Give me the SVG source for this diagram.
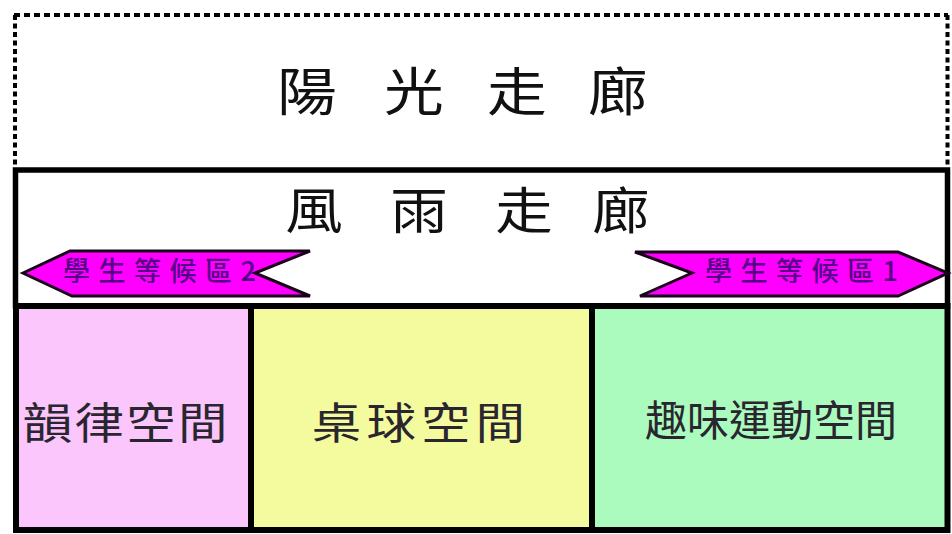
<svg xmlns="http://www.w3.org/2000/svg" width="952" height="534" viewBox="0 0 952 534">
  <style>
    .cjk { font-family: "Noto Sans CJK TC", "Noto Sans CJK SC", sans-serif; }
    .title { font-size: 52px; fill: #111; }
    .title2 { font-size: 50px; fill: #111; }
    .room { font-size: 43px; fill: #2a2630; }
    .wait { font-size: 27px; fill: #560088; letter-spacing: 8.5px; font-weight: 500; }
    .dot-h { stroke: #000; stroke-width: 4; stroke-dasharray: 6 4; fill: none; }
    .dot-v { stroke: #000; stroke-width: 4; stroke-dasharray: 5 3.5; fill: none; }
    .cell { stroke: #000; stroke-width: 6; }
    .arrow { fill: #ff00ff; stroke: #1a001a; stroke-width: 3; stroke-linejoin: miter; }
  </style>
  <rect width="952" height="534" fill="#ffffff"/>

  <g id="sunny-corridor">
    <line class="dot-h" x1="14" y1="15" x2="948" y2="15"/>
    <line class="dot-v" x1="15" y1="15" x2="15" y2="170"/>
    <line class="dot-v" x1="947.5" y1="15" x2="947.5" y2="170"/>
    <text class="cjk title" transform="scale(1.15,1)" y="111"><tspan x="240.9">陽</tspan> <tspan x="333.9">光</tspan> <tspan x="423.5">走</tspan> <tspan x="511.3">廊</tspan></text>
  </g>

  <g id="rain-corridor">
    <rect x="15.5" y="170" width="932" height="136" fill="#ffffff" stroke="#000" stroke-width="5.5"/>
    <text class="cjk title2" transform="scale(1.15,1)" y="229"><tspan x="248.1">風</tspan> <tspan x="339.4">雨</tspan> <tspan x="430.7">走</tspan> <tspan x="515">廊</tspan></text>
  </g>

  <g id="waiting-area-2">
    <polygon class="arrow" points="23,273 70,251 310,251 255,273 310,296 72,296"/>
    <text class="cjk wait" x="63" y="281">學生等候區2</text>
  </g>

  <g id="waiting-area-1">
    <polygon class="arrow" points="635,252 898,252 948,273 898,296 640,296 692,273"/>
    <text class="cjk wait" x="705" y="281">學生等候區1</text>
  </g>

  <g id="rhythm-space">
    <rect class="cell" x="16" y="306" width="235" height="224" fill="#fbc6fb"/>
    <text class="cjk room" transform="scale(1.15,1)" x="19.8" y="439" letter-spacing="2">韻律空間</text>
  </g>

  <g id="table-tennis-space">
    <rect class="cell" x="251" y="306" width="341" height="224" fill="#f4fb9e"/>
    <text class="cjk room" transform="scale(1.15,1)" x="271.1" y="439" letter-spacing="4.5">桌球空間</text>
  </g>

  <g id="fun-sports-space">
    <rect class="cell" x="592" y="306" width="355.5" height="224" fill="#aafbbd"/>
    <text class="cjk room" x="771" y="436" text-anchor="middle" style="font-size:42px">趣味運動空間</text>
  </g>

  <g id="connectors"></g>
</svg>
